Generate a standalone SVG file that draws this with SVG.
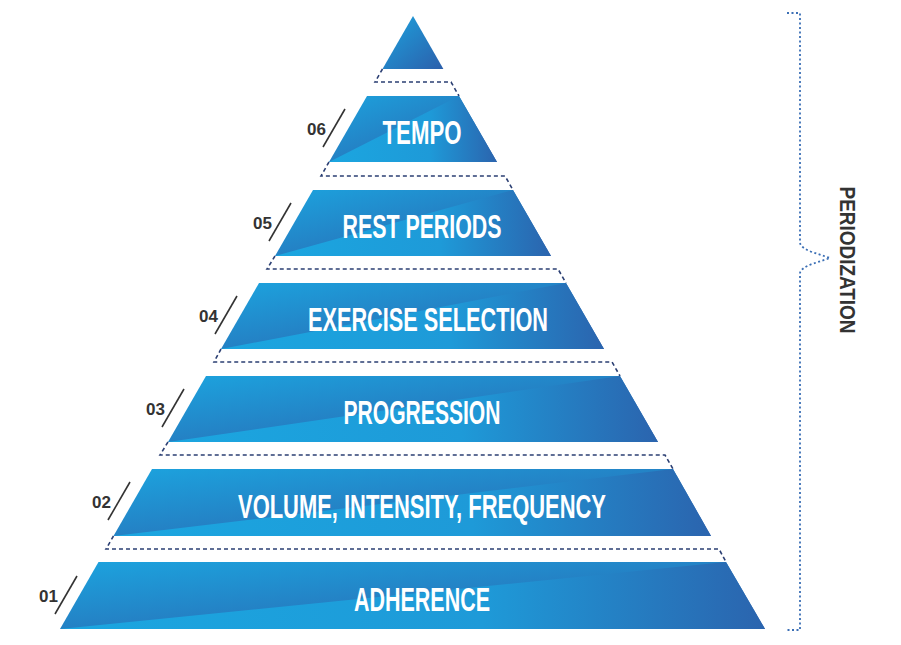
<svg xmlns="http://www.w3.org/2000/svg" width="901" height="645" viewBox="0 0 901 645">
<style>
.lab{font-family:"Liberation Sans",Arial,sans-serif;font-weight:bold;font-size:33px;fill:#fff;text-anchor:middle}
.num{font-family:"Liberation Sans",Arial,sans-serif;font-weight:bold;font-size:17px;fill:#333;text-anchor:end}
.sl{stroke:#333;stroke-width:1.6}
.dash{fill:none;stroke:#2b3f73;stroke-width:1.6;stroke-dasharray:4 3}
.br{fill:none;stroke:#3b6fb5;stroke-width:1.8;stroke-dasharray:2 2.5}
</style>
<defs>
<linearGradient id="g1" x1="0" y1="0" x2="1" y2="1"><stop offset="0" stop-color="#1ca3de"/><stop offset="1" stop-color="#2c5fab"/></linearGradient>
<linearGradient id="g2" x1="0" y1="0" x2="1" y2="0"><stop offset="0" stop-color="#1ba6e0"/><stop offset="0.6" stop-color="#1e9ad8"/><stop offset="1" stop-color="#2b64ae"/></linearGradient>
</defs>
<g id="connectors">
<path class="dash" d="M382.5 69 L375 82 L451 82 L459 96"/>
<path class="dash" d="M329 162 L321 176 L505 176 L513 190"/>
<path class="dash" d="M275 256 L267 269 L558 269 L566 283"/>
<path class="dash" d="M221 349 L214 362 L612 362 L620 376"/>
<path class="dash" d="M168 442 L160 455 L665 455 L673 469"/>
<path class="dash" d="M113.5 536 L106 549 L719 549 L726 562"/>
</g>
<g id="top"><polygon points="413,16 382.5,69 443.4,69" fill="url(#g1)"/></g>
<g id="tempo">
<polygon points="367,96 459,96 497,162 329,162" fill="url(#g1)"/>
<polygon points="329,162 459,96 497,162" fill="url(#g2)"/>
<text class="lab" x="422" y="144" textLength="79" lengthAdjust="spacingAndGlyphs">TEMPO</text>
<line class="sl" x1="345" y1="109" x2="323" y2="147"/><text class="num" x="326" y="135">06</text>
</g>
<g id="rest">
<polygon points="313,190 513,190 551,256 275,256" fill="url(#g1)"/>
<polygon points="275,256 513,190 551,256" fill="url(#g2)"/>
<text class="lab" x="422" y="238" textLength="159" lengthAdjust="spacingAndGlyphs">REST PERIODS</text>
<line class="sl" x1="291" y1="203" x2="269" y2="241"/><text class="num" x="272" y="229">05</text>
</g>
<g id="exercise">
<polygon points="259,283 566,283 604,349 221,349" fill="url(#g1)"/>
<polygon points="221,349 566,283 604,349" fill="url(#g2)"/>
<text class="lab" x="428" y="331" textLength="240" lengthAdjust="spacingAndGlyphs">EXERCISE SELECTION</text>
<line class="sl" x1="237" y1="296" x2="215" y2="334"/><text class="num" x="218" y="322">04</text>
</g>
<g id="progression">
<polygon points="206,376 620,376 658,442 168,442" fill="url(#g1)"/>
<polygon points="168,442 620,376 658,442" fill="url(#g2)"/>
<text class="lab" x="422" y="424" textLength="157" lengthAdjust="spacingAndGlyphs">PROGRESSION</text>
<line class="sl" x1="184" y1="389" x2="162" y2="427"/><text class="num" x="165" y="415">03</text>
</g>
<g id="volume">
<polygon points="152,469 673,469 711,536 113.5,536" fill="url(#g1)"/>
<polygon points="113.5,536 673,469 711,536" fill="url(#g2)"/>
<text class="lab" x="422" y="518" textLength="368" lengthAdjust="spacingAndGlyphs">VOLUME, INTENSITY, FREQUENCY</text>
<line class="sl" x1="130" y1="482" x2="108" y2="520"/><text class="num" x="111" y="508">02</text>
</g>
<g id="adherence">
<polygon points="98.5,562 726,562 765,629 60,629" fill="url(#g1)"/>
<polygon points="60,629 726,562 765,629" fill="url(#g2)"/>
<text class="lab" x="422" y="611" textLength="136" lengthAdjust="spacingAndGlyphs">ADHERENCE</text>
<line class="sl" x1="77" y1="576" x2="55" y2="614"/><text class="num" x="58" y="602">01</text>
</g>
<g id="bracket">
<path class="br" d="M787 13 L800 13 L800 243 Q801 248 812 252 L830 258 L812 264 Q801 268 800 273 L800 630 L787 630"/>
<text transform="translate(840,260) rotate(90)" text-anchor="middle" font-family="Liberation Sans,Arial,sans-serif" font-weight="bold" font-size="22" fill="#333" textLength="147" lengthAdjust="spacingAndGlyphs">PERIODIZATION</text>
</g>
</svg>
